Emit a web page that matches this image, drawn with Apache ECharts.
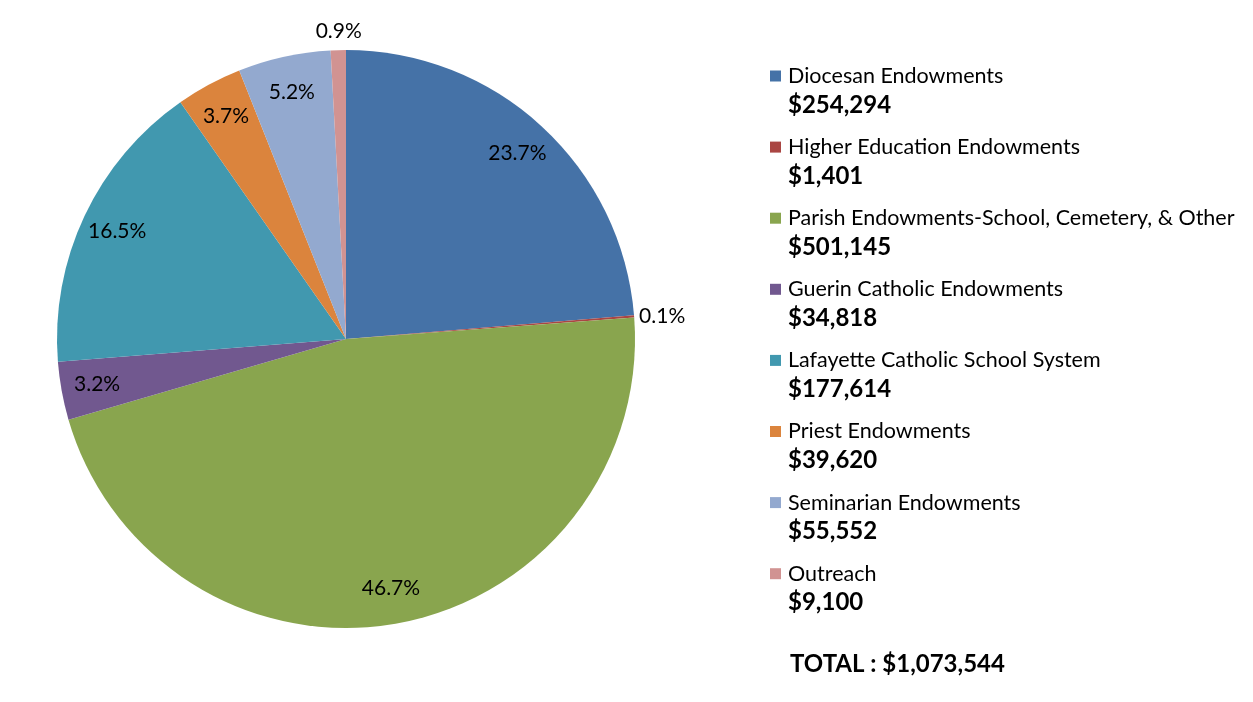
<!DOCTYPE html>
<html>
<head>
<meta charset="utf-8">
<script src="https://cdn.jsdelivr.net/npm/echarts@6/dist/echarts.min.js"></script>
<style>
  html, body { margin: 0; padding: 0; background: #fff; }
  #myCharts { width: 1253px; height: 702px; }
</style>
</head>
<body>
<div id="myCharts"></div>
<script>
const categories = [
  'Diocesan Endowments',
  'Higher Education Endowments',
  'Parish Endowments-School, Cemetery, & Other',
  'Guerin Catholic Endowments',
  'Lafayette Catholic School System',
  'Priest Endowments',
  'Seminarian Endowments',
  'Outreach'
];
const amounts = [254294, 1401, 501145, 34818, 177614, 39620, 55552, 9100];
const colors = ['#4572a7', '#aa4643', '#89a54e', '#71588f', '#4198af', '#db843d', '#93a9cf', '#d19392'];
const totalLabel = 'TOTAL : $1,073,544';

const fontFamily = 'Lato, "Open Sans", sans-serif';

function money(v) {
  return '$' + v.toLocaleString('en-US');
}

let rich = {
  name: { fontSize: 21.5, lineHeight: 24, color: '#000', padding: [0, 0, 0, 7], fontFamily: fontFamily },
  val: { fontSize: 24, lineHeight: 34, fontWeight: 'bold', color: '#000', padding: [0, 0, 0, 18], fontFamily: fontFamily }
};
colors.forEach((c, i) => {
  rich['b' + i] = { width: 11, height: 11, backgroundColor: c };
});

// small slices get their label outside the pie
let labelData = categories.map((name, i) => {
  let item = { name: name, value: amounts[i], itemStyle: { color: 'rgba(0,0,0,0)' } };
  if (name === 'Higher Education Endowments') {
    item.label = { position: 'outside' };
    item.labelLine = { show: false, length: 0, length2: 0 };
  }
  if (name === 'Outreach') {
    item.label = { position: 'outside', distanceToLabelLine: -24 };
    item.labelLine = { show: false, length: 19, length2: 0 };
  }
  return item;
});

let option = {
  animation: false,
  color: colors,
  title: {
    text: totalLabel,
    left: 790,
    top: 652,
    padding: 0,
    textStyle: { fontSize: 24, fontWeight: 'bold', color: '#000', fontFamily: fontFamily }
  },
  legend: {
    orient: 'vertical',
    left: 760,
    top: 60,
    itemWidth: 0,
    itemHeight: 0,
    itemGap: 19.1,
    selectedMode: false,
    data: categories,
    formatter: function (name) {
      let i = categories.indexOf(name);
      return '{b' + i + '|}{name|' + name + '}\n{val|' + money(amounts[i]) + '}';
    },
    textStyle: { rich: rich }
  },
  series: [
    {
      type: 'pie',
      center: [346, 339],
      radius: [0, 289],
      startAngle: 90,
      clockwise: true,
      silent: true,
      label: { show: false },
      labelLine: { show: false },
      data: categories.map((name, i) => ({ name: name, value: amounts[i] }))
    },
    {
      type: 'pie',
      center: [346, 339],
      radius: [211, 289],
      startAngle: 90,
      clockwise: true,
      silent: true,
      avoidLabelOverlap: false,
      percentPrecision: 1,
      label: {
        show: true,
        position: 'inside',
        formatter: '{d}%',
        fontSize: 21,
        color: '#000',
        fontFamily: fontFamily
      },
      labelLine: { show: false },
      data: labelData
    }
  ]
};

let myChart = echarts.init(document.getElementById('myCharts'));
myChart.setOption(option);
</script>
</body>
</html>
